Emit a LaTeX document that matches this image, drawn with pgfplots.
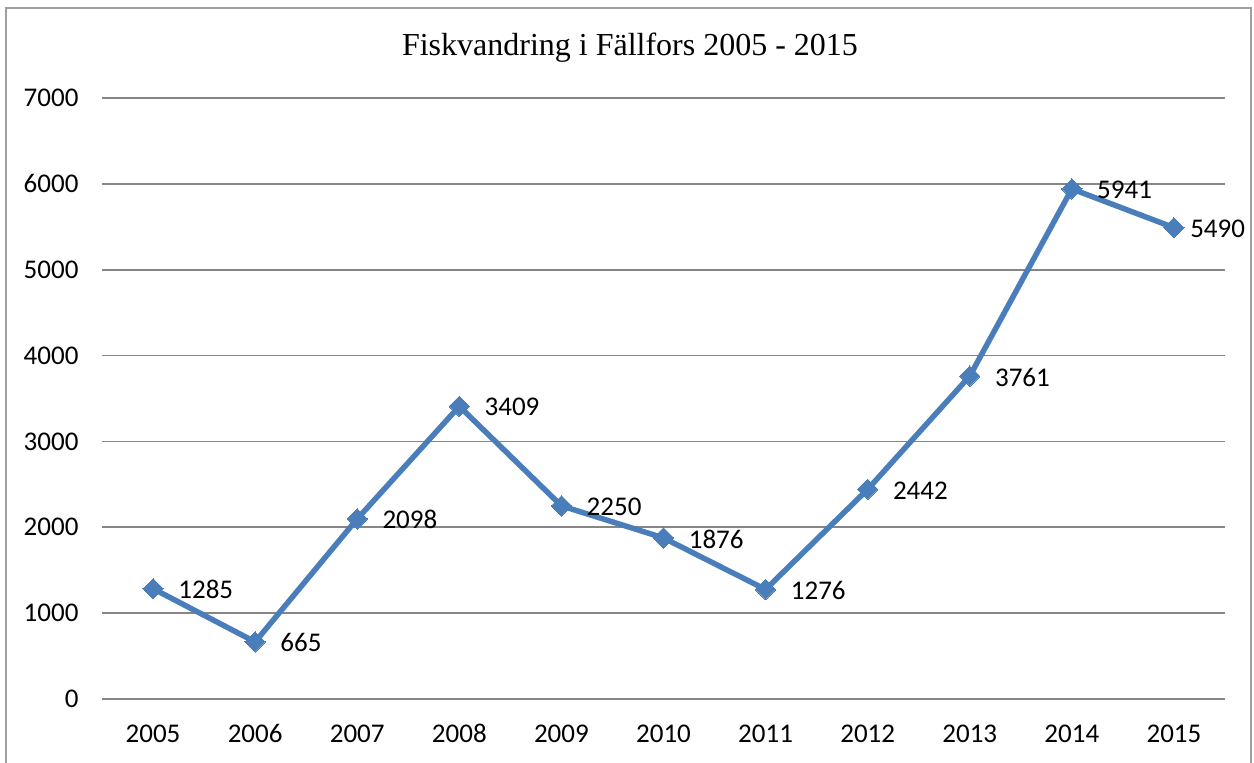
\documentclass[border=0pt]{standalone}
\usepackage{pgfplots}
\pgfplotsset{compat=1.18}
\usepackage{fontspec}
\setmainfont{Carlito}
\newfontfamily\titlefont{Liberation Serif}
\definecolor{lineblue}{HTML}{4A7EBB}
\definecolor{gridgray}{HTML}{868686}
\begin{document}
\begin{tikzpicture}[x=1pt,y=1pt]
\useasboundingbox (-102,-64) rectangle (1152,699);
\draw[gray!75, line width=1.5pt] (-96,-80) -- (-96,691) -- (1149,691) -- (1149,-80);
\node[font=\titlefont\fontsize{32}{38}\selectfont] at (528,651) {Fiskvandring i Fällfors 2005 - 2015};
\begin{axis}[
  at={(0,0)}, anchor=south west, scale only axis,
  width=1123pt, height=601pt,
  xmin=-0.5, xmax=10.5, ymin=0, ymax=7000,
  ytick={0,1000,...,7000},
  xtick={0,...,10},
  xticklabels={2005,2006,2007,2008,2009,2010,2011,2012,2013,2014,2015},
  axis line style={draw=none},
  ymajorgrids, grid style={gridgray, line width=1.6pt},
  major tick length=0pt,
  tick label style={font=\fontsize{27}{32}\selectfont, black},
  /pgf/number format/assume math mode=true,
  /pgf/number format/1000 sep={},
  yticklabel style={xshift=-20pt},
  xticklabel style={anchor=base, yshift=-44pt},
  clip=false,
  point meta=explicit symbolic,
  nodes near coords,
  every node near coord/.append style={anchor=west, xshift=22pt, yshift=-1pt, black, font=\fontsize{27}{32}\selectfont},
]
\addplot[lineblue, line width=5.5pt, mark=square*, mark size=7.2pt, mark options={fill=lineblue, draw=lineblue, line width=0pt, rotate=45}] coordinates {
(0,1285) [1285]
(1,665) [665]
(2,2098) [2098]
(3,3409) [3409]
(4,2250) [2250]
(5,1876) [1876]
(6,1276) [1276]
(7,2442) [2442]
(8,3761) [3761]
(9,5941) [5941]
(10,5490) [\hspace*{-9pt}5490]
};
\end{axis}
\end{tikzpicture}
\end{document}
